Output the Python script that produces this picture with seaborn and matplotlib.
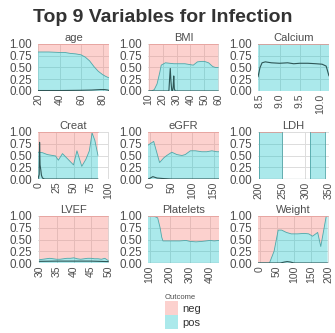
import numpy as np
import matplotlib
matplotlib.use("Agg")
import matplotlib.pyplot as plt
from matplotlib.patches import Patch
import seaborn as sns

nan = np.nan

# ---------------- data ----------------
variables = ["age", "BMI", "Calcium", "Creat", "eGFR", "LDH", "LVEF", "Platelets", "Weight"]

age_x = [20, 30, 40, 45, 50, 55, 60, 64, 68, 72, 76, 80, 83, 86]
age_pos = [0.83, 0.83, 0.82, 0.82, 0.80, 0.79, 0.77, 0.72, 0.64, 0.52, 0.42, 0.35, 0.31, 0.28]
age_lx = [20, 40, 60, 70, 78, 82, 85, 86]
age_ly = [0.01, 0.01, 0.015, 0.02, 0.03, 0.03, 0.02, 0.01]

bmi_x = [10, 12, 14, 16, 18, 19, 22, 25, 28, 32, 36, 40, 42, 45, 48, 50, 53, 56, 58, 60]
bmi_pos = [0.0, 0.0, 0.03, 0.15, 0.4, 0.55, 0.6, 0.59, 0.58, 0.58, 0.58, 0.56, 0.55, 0.62, 0.63, 0.63, 0.6, 0.52, 0.5, 0.5]
bmi_lx = [10, 24.5, 25.0, 25.5, 26.0, 26.6, 27.2, 27.6, 28.0, 28.4, 29.0, 60]
bmi_ly = [0.0, 0.0, 0.25, 0.48, 0.2, 0.0, 0.0, 0.1, 0.32, 0.05, 0.0, 0.0]

calcium_x = [8.47, 10.22]
calcium_pos = [1.0, 1.0]
calcium_lx = [8.47, 8.52, 8.57, 8.65, 8.8, 9.0, 9.2, 9.35, 9.5, 9.7, 9.9, 10.05, 10.15, 10.22]
calcium_ly = [0.3, 0.5, 0.6, 0.62, 0.6, 0.59, 0.6, 0.58, 0.59, 0.59, 0.58, 0.57, 0.53, 0.32]

creat_x = [-1.5, 5, 12, 20, 24, 28, 34, 42, 50, 55, 62, 68, 73, 77, 81, 85.5]
creat_pos = [0.57, 0.56, 0.52, 0.5, 0.49, 0.4, 0.54, 0.42, 0.3, 0.6, 0.27, 0.42, 0.6, 0.98, 0.82, 0.5]
creat_lx = [-1.5, 0.2, 0.8, 1.5, 2.5, 3.5, 5, 8, 85.5]
creat_ly = [0.0, 0.1, 0.78, 0.3, 0.2, 0.08, 0.02, 0.0, 0.0]

egfr_x = [-5.5, 8, 22, 32, 39, 51, 63, 75, 83, 95, 107, 122, 134, 146, 158, 163]
egfr_pos = [0.72, 0.8, 0.35, 0.45, 0.5, 0.57, 0.52, 0.5, 0.52, 0.6, 0.6, 0.58, 0.58, 0.6, 0.58, 0.58]
egfr_lx = [-5.5, 0, 6, 16, 30, 50, 163]
egfr_ly = [0.0, 0.02, 0.05, 0.02, 0.01, 0.0, 0.0]

ldh_x = [200, 250, 280, 311, 343]
ldh_pos = [1.0, 1.0, nan, 1.0, 1.0]
ldh_lx = [200, 250, 280, 311, 343]
ldh_ly = [0.005, 0.005, nan, 0.005, 0.005]

lvef_x = [30, 31, 32, 33, 34, 35, 36, 37, 38, 39, 40, 41, 42, 43, 44, 45, 46, 47, 48, 49, 50]
lvef_pos = [0.07, 0.08, 0.09, 0.1, 0.09, 0.08, 0.08, 0.09, 0.1, 0.1, 0.11, 0.09, 0.08, 0.09, 0.1, 0.1, 0.09, 0.09, 0.08, 0.1, 0.05]
lvef_lx = [30, 35, 40, 45, 50]
lvef_ly = [0.035, 0.04, 0.04, 0.04, 0.03]

plt_x = [92, 120, 140, 152, 160, 166, 200, 250, 280, 300, 330, 360, 400, 420, 444]
plt_pos = [1.0, 1.0, 0.96, 0.75, 0.55, 0.47, 0.47, 0.47, 0.48, 0.46, 0.45, 0.46, 0.48, 0.47, 0.48]
plt_lx = [92, 150, 250, 350, 444]
plt_ly = [0.01, 0.01, 0.01, 0.01, 0.01]

weight_x = [-4.8, 28.6, 42, 54, 64, 78, 92, 111, 130, 143, 154, 169, 178, 194, 198]
weight_pos = [0.0, 0.0, 0.25, 0.7, 0.7, 0.65, 0.62, 0.62, 0.63, 0.62, 0.57, 0.65, 0.35, 1.0, 1.0]
weight_lx = [-4.8, 60, 72, 80, 90, 100, 198]
weight_ly = [0.0, 0.0, 0.02, 0.03, 0.02, 0.0, 0.0]

xs = [age_x, bmi_x, calcium_x, creat_x, egfr_x, ldh_x, lvef_x, plt_x, weight_x]
pos_vals = [age_pos, bmi_pos, calcium_pos, creat_pos, egfr_pos, ldh_pos, lvef_pos, plt_pos, weight_pos]
line_x = [age_lx, bmi_lx, calcium_lx, creat_lx, egfr_lx, ldh_lx, lvef_lx, plt_lx, weight_lx]
line_y = [age_ly, bmi_ly, calcium_ly, creat_ly, egfr_ly, ldh_ly, lvef_ly, plt_ly, weight_ly]

x_ticks = [[20, 40, 60, 80], [10, 20, 30, 40, 50, 60], [8.5, 9.0, 9.5, 10.0],
           [0, 25, 50, 75, 100], [0, 50, 100, 150], [200, 250, 300, 350],
           [30, 35, 40, 45, 50], [100, 200, 300, 400], [0, 50, 100, 150, 200]]
x_labels = [["20", "40", "60", "80"], ["10", "20", "30", "40", "50", "60"], ["8.5", "9.0", "9.5", "10.0"],
            ["0", "25", "50", "75", "100"], ["0", "50", "100", "150"], ["200", "250", "300", "350"],
            ["30", "35", "40", "45", "50"], ["100", "200", "300", "400"], ["0", "50", "100", "150", "200"]]
x_limits = [(20, 86), (9.5, 60.5), (8.47, 10.22), (-1.5, 101.5), (-5.5, 163),
            (198, 351), (29.6, 50.2), (92, 444), (-4.8, 202)]
y_ticks = [0, 0.25, 0.5, 0.75, 1.0]
y_labels = ["0.00", "0.25", "0.50", "0.75", "1.00"]
outcomes = ["neg", "pos"]

# ---------------- style ----------------
sns.set_theme(style="white")
plt.rcParams["font.family"] = ["Liberation Sans", "DejaVu Sans"]

W, H = 335, 333
fig = plt.figure(figsize=(W / 100, H / 100), dpi=100)

neg_col = "#F8766D"
pos_col = "#00BFC4"
grid_col = "#DCDCDC"
text_col = "#4D4D4D"

col_left = [38, 148, 258]
col_w = 71
row_top = [44, 132, 216]
row_h = 47

fig.text(163 / W, 1 - 17 / H, "Top 9 Variables for Infection", ha="center", va="center",
         fontsize=14, fontweight="bold", color="#333333")

for i, var in enumerate(variables):
    r, c = divmod(i, 3)
    ax = fig.add_axes([col_left[c] / W, 1 - (row_top[r] + row_h) / H, col_w / W, row_h / H])
    x = np.array(xs[i], dtype=float)
    p = np.array(pos_vals[i], dtype=float)
    ax.fill_between(x, p, 1.0, where=~np.isnan(p), facecolor=neg_col, alpha=0.33,
                    edgecolor="none", zorder=2)
    ax.fill_between(x, 0.0, p, where=~np.isnan(p), facecolor=pos_col, alpha=0.33,
                    edgecolor="none", zorder=2)
    # outlines of the filled areas
    ax.plot(x, p, color="#4FA6A8", lw=0.6, zorder=3)
    ax.plot(x, np.where(np.isnan(p), nan, 1.0), color="#E8A39E", lw=0.6, zorder=3)
    if var == "LDH":
        for xv in [200, 250, 311, 343]:
            ax.axvline(xv, color="#4FA6A8", lw=0.6, zorder=3)
    sns.lineplot(x=line_x[i], y=line_y[i], ax=ax, color="#2E5656", lw=0.8, zorder=4,
                 sort=False, estimator=None)
    ax.set_xlim(*x_limits[i])
    ax.set_ylim(0, 1)
    ax.set_xticks(x_ticks[i])
    ax.set_xticklabels(x_labels[i], rotation=90)
    ax.set_yticks(y_ticks)
    ax.set_yticklabels(y_labels)
    ax.tick_params(axis="y", length=0, labelsize=8.4, colors=text_col, pad=4.5)
    ax.tick_params(axis="x", length=0, labelsize=7.5, colors=text_col, pad=2)
    ax.grid(True, color=grid_col, lw=0.7, zorder=0)
    ax.set_axisbelow(True)
    for s in ax.spines.values():
        s.set_visible(False)
    ax.set_xlabel("")
    ax.set_ylabel("")
    ax.set_title(var, fontsize=8, color=text_col, pad=2.5)

handles = [Patch(facecolor=neg_col, alpha=0.33, edgecolor="none"),
           Patch(facecolor=pos_col, alpha=0.33, edgecolor="none")]
leg = fig.legend(handles, outcomes, title="Outcome", loc="upper left",
                 bbox_to_anchor=(165 / W, 1 - 294 / H), frameon=False,
                 fontsize=8, title_fontsize=5.5, handlelength=1.2, handleheight=1.55,
                 handletextpad=0.4, labelspacing=0.0, borderpad=0.0, borderaxespad=0.0)
leg._legend_box.align = "left"
for t in leg.get_texts():
    t.set_color("#333333")
leg.get_title().set_color(text_col)

fig.savefig("out.png", dpi=100)
